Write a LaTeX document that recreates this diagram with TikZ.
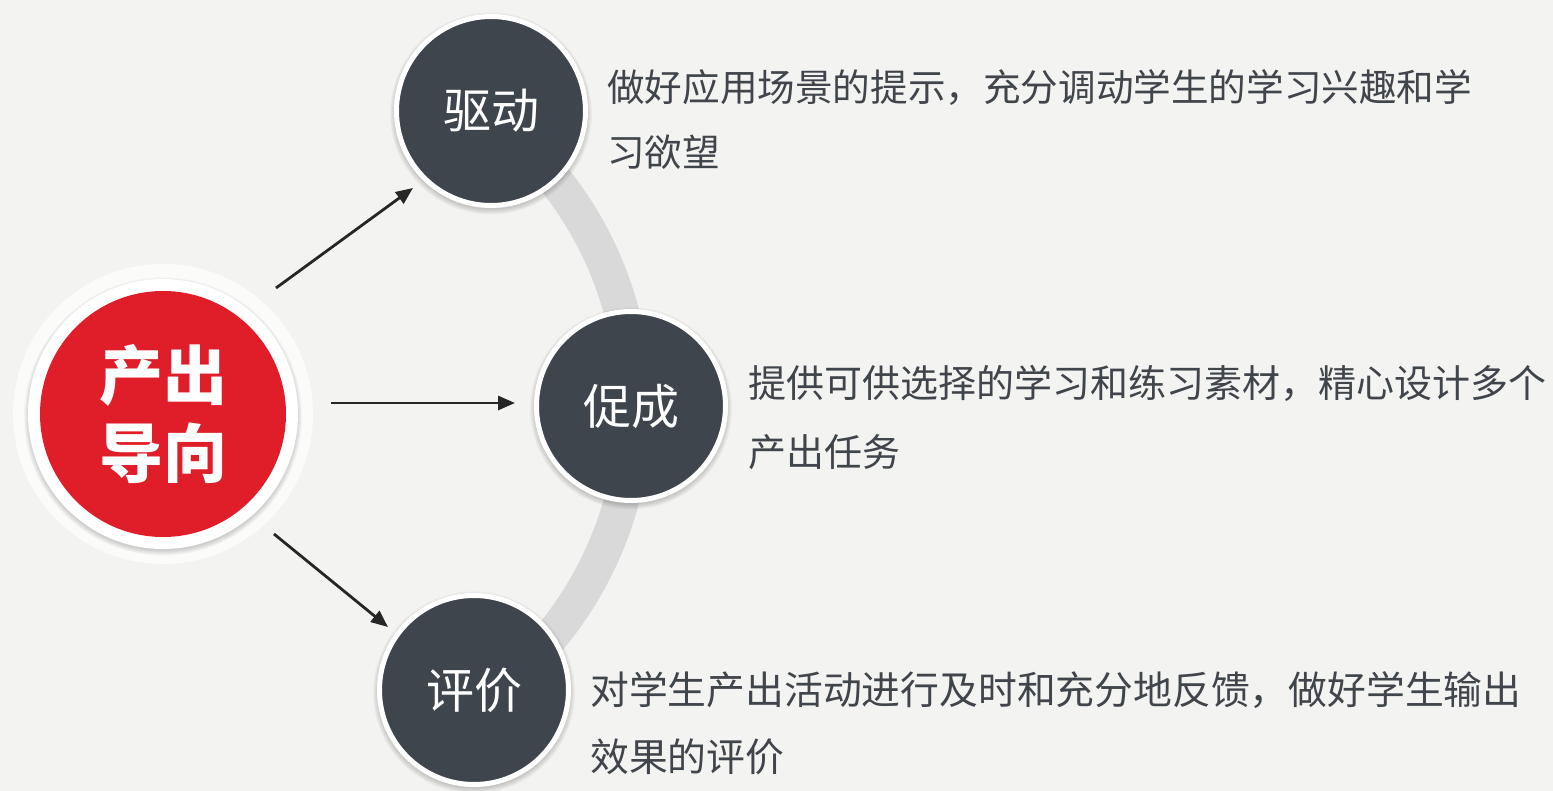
\documentclass[tikz,border=0pt]{standalone}
\usepackage{fontspec}
\newfontfamily\cjk{Noto Sans CJK SC}
\usetikzlibrary{arrows.meta,calc}
\definecolor{bgc}{HTML}{F3F3F1}
\definecolor{darkc}{HTML}{3E454C}
\definecolor{redc}{HTML}{E01E2A}
\definecolor{arcc}{HTML}{D9D9D9}
\definecolor{txtc}{HTML}{40454B}
\definecolor{arrc}{HTML}{262626}
\tikzset{
  darkcircle/.style={circle, inner sep=0pt, minimum size=189pt, fill=darkc, draw=white, line width=5pt,
    text=white, font=\cjk\fontsize{48}{48}\selectfont},
  halo/.style={circle, inner sep=0pt, minimum size=300pt, fill=white, fill opacity=0.7},
  whitering/.style={circle, inner sep=0pt, minimum size=270pt, fill=white},
  redcircle/.style={circle, inner sep=0pt, minimum size=246pt, fill=redc, text=white, align=center,
    font=\cjk\bfseries\fontsize{64}{78}\selectfont},
  desc/.style={anchor=base west, inner sep=0pt, text=txtc},
  descA/.style={desc, font=\cjk\fontsize{37.6}{37.6}\selectfont},
  descB/.style={desc, font=\cjk\fontsize{38}{38}\selectfont},
  descC/.style={desc, font=\cjk\fontsize{38.8}{38.8}\selectfont},
  band/.style={draw=arcc, line width=35pt},
  conn/.style={draw=arrc, line width=2.8pt, -{Triangle[length=17pt,width=14pt]}},
}
\newcommand{\softshadow}[2]{%
  \foreach \k in {1,...,6}{\fill[black, opacity=0.03] ($(#1)+(0,2.5)$) circle ({#2+\k});}%
}
\begin{document}
\begin{tikzpicture}[x=1pt,y=-1pt]
\useasboundingbox (0,0) rectangle (1553,791);
\fill[bgc] (0,0) rectangle (1553,791);
% centres
\coordinate (cR) at (163,414);
\coordinate (cA) at (491,111);
\coordinate (cB) at (631,406);
\coordinate (cC) at (474,690);
\coordinate (arcO) at (272,406);
% grey band
\draw[band] (arcO) ++(-60:362) arc[start angle=-60, end angle=60, radius=362];
% shadows
\softshadow{cA}{95}
\softshadow{cB}{95}
\softshadow{cC}{95}
% red centre
\node[halo] (halo) at (cR) {};
\softshadow{cR}{133}
\node[whitering] (ring) at (cR) {};
\node[redcircle] (red) at (cR) {产出\\导向};
% dark circles
\node[darkcircle] (qd) at (cA) {驱动};
\node[darkcircle] (cc) at (cB) {促成};
\node[darkcircle] (pj) at (cC) {评价};
% connectors
\coordinate (a1s) at (276,288);
\coordinate (a1e) at (413,188);
\coordinate (a2s) at (331,403);
\coordinate (a2e) at (515,403);
\coordinate (a3s) at (274,534);
\coordinate (a3e) at (388,627);
\draw[conn] (a1s) -- (a1e);
\draw[conn] (a2s) -- (a2e);
\draw[conn] (a3s) -- (a3e);
% descriptions
\node[descA] (t1a) at (607,101.3) {做好应用场景的提示，充分调动学生的学习兴趣和学};
\node[descA] (t1b) at (607,166.3) {习欲望};
\node[descB] (t2a) at (748,397.4) {提供可供选择的学习和练习素材，精心设计多个};
\node[descB] (t2b) at (748,466.4) {产出任务};
\node[descC] (t3a) at (590,704.7) {对学生产出活动进行及时和充分地反馈，做好学生输出};
\node[descC] (t3b) at (590,771.7) {效果的评价};
\end{tikzpicture}
\end{document}
